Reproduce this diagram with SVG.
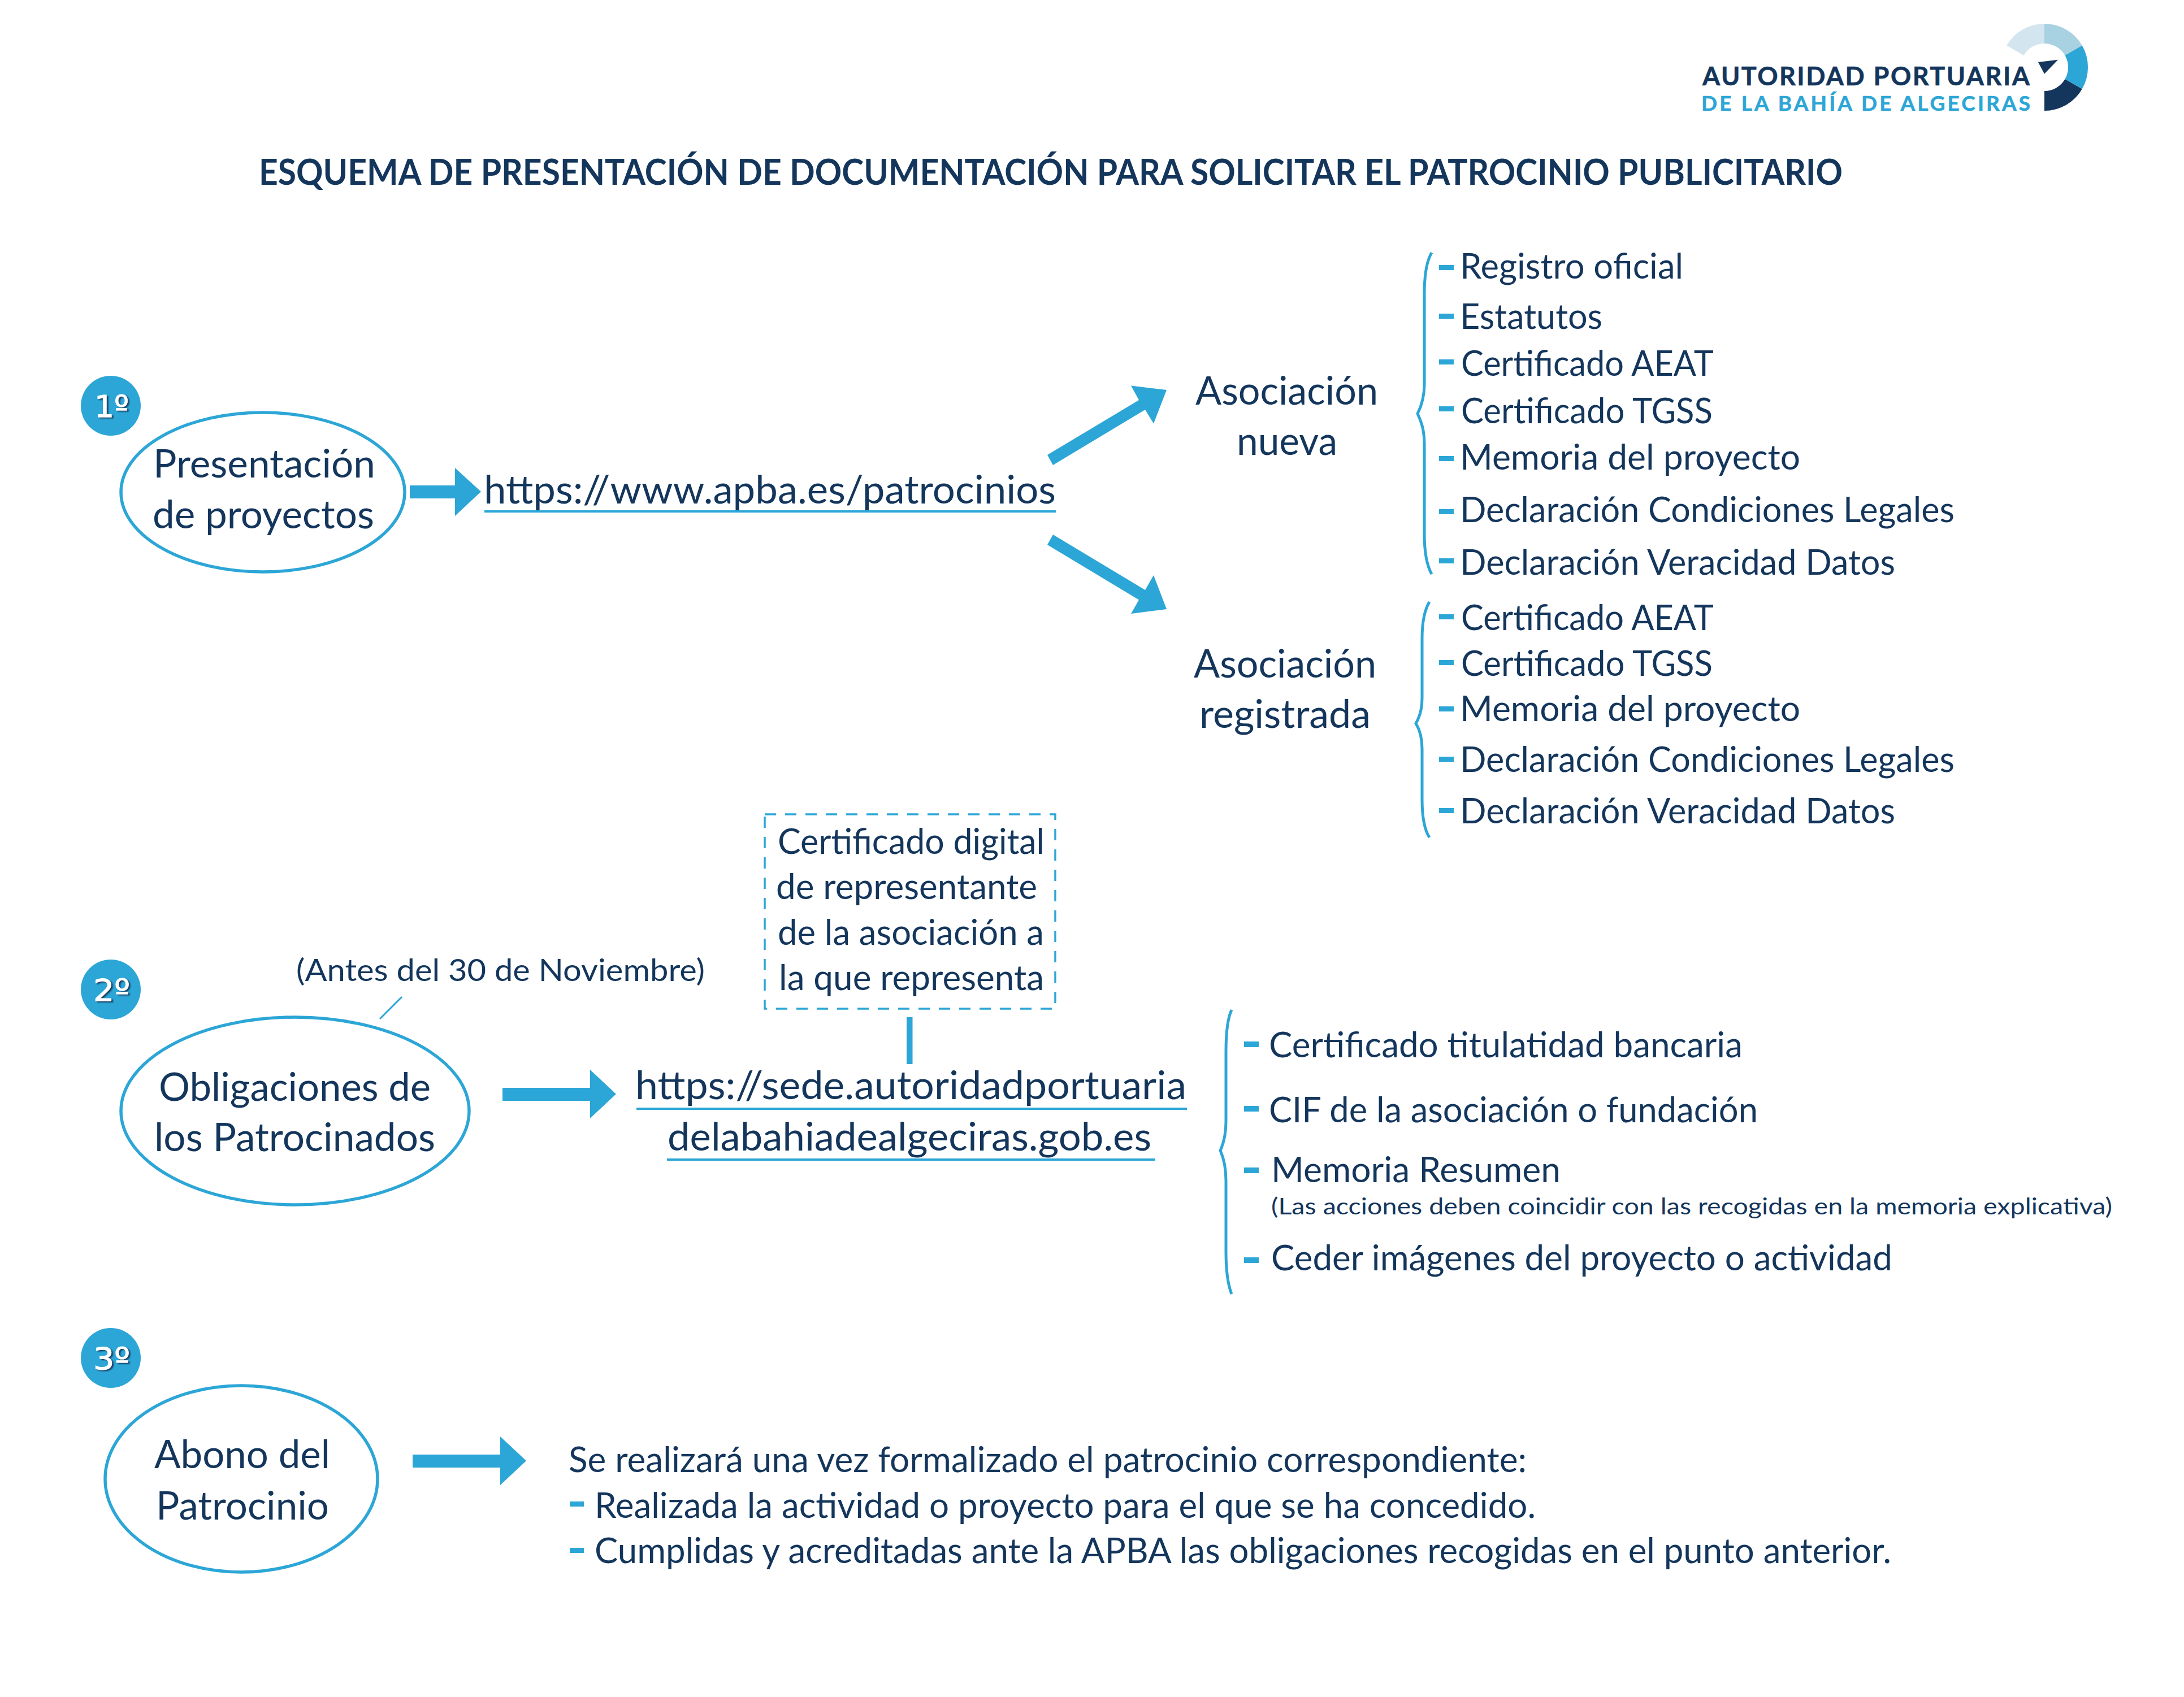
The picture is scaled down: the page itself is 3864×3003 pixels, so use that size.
<svg xmlns="http://www.w3.org/2000/svg" width="3864" height="3003" viewBox="0 0 3864 3003">
<defs>
<style>
text{font-family:"Lato","Carlito","Liberation Sans",sans-serif;fill:#14365c}
.n{font-size:69px}
.i{font-size:62px}
.s{font-size:41px}
.t{font-size:63px;font-weight:700}
.b{font-family:"DejaVu Sans",sans-serif;font-size:54px;font-weight:400;fill:#fff;stroke:#fff;stroke-width:1;filter:url(#sh)}
.l1{font-size:45px;font-weight:700;stroke:#14365c;stroke-width:.6}
.l2{font-size:37px;font-weight:700;fill:#2ca6d6;stroke:#2ca6d6;stroke-width:.6}
.e{fill:#fff;stroke:#2ca6d6;stroke-width:5.500}
.f{fill:#2ca6d6;stroke:none}
.br{fill:none;stroke:#2ca6d6;stroke-width:5}
.u{stroke:#2ca6d6;stroke-width:4;fill:none}
</style>
<filter id="sh" x="-20%" y="-20%" width="150%" height="150%"><feDropShadow dx="3" dy="2" stdDeviation="1" flood-color="#14365c" flood-opacity="0.9"/></filter>
</defs>
<rect width="3864" height="3003" fill="#fff"/>
<g id="logo">
<path d="M3617 42A77 77 0 0 0 3550.300 80.500L3580.600 98A42 42 0 0 1 3617 77Z" fill="#d3e6ef"/>
<path d="M3617 42A77 77 0 0 1 3683.700 80.500L3653.400 98A42 42 0 0 0 3617 77Z" fill="#a8d1e2"/>
<path d="M3683.700 80.500A77 77 0 0 1 3683.700 157.500L3653.400 140A42 42 0 0 0 3653.400 98Z" fill="#2ca6d6"/>
<path d="M3683.700 157.500A77 77 0 0 1 3617 196L3617 161A42 42 0 0 0 3653.400 140Z" fill="#14365c"/>
<path d="M3606 110L3641 105.700L3617 130.700Z" fill="#14365c"/>
<text class="l1" x="3012" y="151" textLength="579" lengthAdjust="spacing">AUTORIDAD PORTUARIA</text>
<text class="l2" x="3010" y="196" textLength="582" lengthAdjust="spacing">DE LA BAHÍA DE ALGECIRAS</text>
</g>
<g id="title"><text class="t" x="458" y="327" textLength="2802" lengthAdjust="spacingAndGlyphs">ESQUEMA DE PRESENTACIÓN DE DOCUMENTACIÓN PARA SOLICITAR EL PATROCINIO PUBLICITARIO</text></g>
<g id="connectors">
<polygon class="f" points="725,859 805,859 805,828 851,870 805,913 805,882 725,882"/>
<polygon class="f" points="1853,805 2015,708 2001,682.500 2064,690 2041,749.500 2026,725 1863,823"/>
<polygon class="f" points="1863,946 2026,1044 2041,1018 2064,1078 2001,1086 2015,1061.500 1853,964"/>
<polygon class="f" points="889,1925 1044,1925 1044,1893 1090,1936 1044,1979 1044,1948 889,1948"/>
<rect class="f" x="1604" y="1800" width="10.500" height="83"/>
<line class="u" style="stroke-width:3" x1="672" y1="1803" x2="711" y2="1764"/>
<polygon class="f" points="730,2574 885,2574 885,2542 931,2585 885,2628 885,2597 730,2597"/>
</g>
<g id="step1">
<g id="badge1"><circle class="f" cx="196" cy="718" r="53"/><text class="b" x="167" y="738" textLength="61" lengthAdjust="spacingAndGlyphs">1º</text></g>
<g id="presentacion"><ellipse class="e" cx="465" cy="871" rx="251" ry="141"/>
<text class="n" x="271" y="845" textLength="393" lengthAdjust="spacingAndGlyphs">Presentación</text>
<text class="n" x="270" y="935" textLength="392" lengthAdjust="spacingAndGlyphs">de proyectos</text></g>
<g id="url1"><text class="n" x="856" y="891" textLength="1012" lengthAdjust="spacingAndGlyphs">https://www.apba.es/patrocinios</text><line class="u" x1="857" y1="905" x2="1868" y2="905"/></g>
<g id="nueva">
<text class="n" x="2115" y="716" textLength="323" lengthAdjust="spacingAndGlyphs">Asociación</text>
<text class="n" x="2188" y="805" textLength="178" lengthAdjust="spacingAndGlyphs">nueva</text></g>
<g id="lista-nueva">
<path class="br" d="M2533 447C2524 462 2520 490 2520 520L2520 680C2520 705 2514 720 2508 732C2514 745 2520 760 2520 785L2520 945C2520 975 2524 1000 2533 1016"/>
<rect class="f" x="2546" y="469" width="26" height="9"/><rect class="f" x="2546" y="555" width="26" height="9"/><rect class="f" x="2546" y="636" width="26" height="9"/><rect class="f" x="2546" y="719" width="26" height="9"/><rect class="f" x="2546" y="807" width="26" height="9"/><rect class="f" x="2546" y="901" width="26" height="9"/><rect class="f" x="2546" y="988" width="26" height="9"/>
<text class="i" x="2583" y="493" textLength="395" lengthAdjust="spacingAndGlyphs">Registro oficial</text>
<text class="i" x="2583" y="582" textLength="252" lengthAdjust="spacingAndGlyphs">Estatutos</text>
<text class="i" x="2585" y="665" textLength="447" lengthAdjust="spacingAndGlyphs">Certificado AEAT</text>
<text class="i" x="2585" y="749" textLength="445" lengthAdjust="spacingAndGlyphs">Certificado TGSS</text>
<text class="i" x="2583" y="831" textLength="602" lengthAdjust="spacingAndGlyphs">Memoria del proyecto</text>
<text class="i" x="2583" y="924" textLength="875" lengthAdjust="spacingAndGlyphs">Declaración Condiciones Legales</text>
<text class="i" x="2583" y="1017" textLength="770" lengthAdjust="spacingAndGlyphs">Declaración Veracidad Datos</text>
</g>
<g id="registrada">
<text class="n" x="2112" y="1199" textLength="323" lengthAdjust="spacingAndGlyphs">Asociación</text>
<text class="n" x="2122" y="1288" textLength="303" lengthAdjust="spacingAndGlyphs">registrada</text></g>
<g id="lista-registrada">
<path class="br" d="M2529 1065C2520 1080 2516 1105 2516 1130L2516 1235C2516 1255 2511 1270 2505 1280C2511 1290 2516 1305 2516 1325L2516 1415C2516 1445 2520 1468 2529 1482"/>
<rect class="f" x="2546" y="1087" width="26" height="9"/><rect class="f" x="2546" y="1168" width="26" height="9"/><rect class="f" x="2546" y="1250" width="26" height="9"/><rect class="f" x="2546" y="1339" width="26" height="9"/><rect class="f" x="2546" y="1430" width="26" height="9"/>
<text class="i" x="2585" y="1115" textLength="447" lengthAdjust="spacingAndGlyphs">Certificado AEAT</text>
<text class="i" x="2585" y="1196" textLength="445" lengthAdjust="spacingAndGlyphs">Certificado TGSS</text>
<text class="i" x="2583" y="1276" textLength="602" lengthAdjust="spacingAndGlyphs">Memoria del proyecto</text>
<text class="i" x="2583" y="1366" textLength="875" lengthAdjust="spacingAndGlyphs">Declaración Condiciones Legales</text>
<text class="i" x="2583" y="1457" textLength="770" lengthAdjust="spacingAndGlyphs">Declaración Veracidad Datos</text>
</g>
</g>
<g id="step2">
<g id="badge2"><circle class="f" cx="196" cy="1751" r="53"/><text class="b" x="165" y="1771" textLength="65" lengthAdjust="spacingAndGlyphs">2º</text></g>
<g id="antes"><text class="s" style="font-size:54px" x="524" y="1736" textLength="723" lengthAdjust="spacingAndGlyphs">(Antes del 30 de Noviembre)</text></g>
<g id="obligaciones"><ellipse class="e" cx="522" cy="1966" rx="308" ry="166"/>
<text class="n" x="281" y="1948" textLength="481" lengthAdjust="spacingAndGlyphs">Obligaciones de</text>
<text class="n" x="273" y="2037" textLength="497" lengthAdjust="spacingAndGlyphs">los Patrocinados</text></g>
<g id="certificado-digital"><rect x="1353" y="1441" width="514" height="344" fill="none" stroke="#2ca6d6" stroke-width="3.500" stroke-dasharray="20 16"/>
<text class="i" x="1376" y="1511" textLength="472" lengthAdjust="spacingAndGlyphs">Certificado digital</text>
<text class="i" x="1373" y="1591" textLength="462" lengthAdjust="spacingAndGlyphs">de representante</text>
<text class="i" x="1376" y="1672" textLength="471" lengthAdjust="spacingAndGlyphs">de la asociación a</text>
<text class="i" x="1378" y="1752" textLength="469" lengthAdjust="spacingAndGlyphs">la que representa</text></g>
<g id="url2">
<text class="n" x="1124" y="1945" textLength="975" lengthAdjust="spacingAndGlyphs">https://sede.autoridadportuaria</text><line class="u" x1="1126" y1="1962" x2="2100" y2="1962"/>
<text class="n" x="1181" y="2036" textLength="856" lengthAdjust="spacingAndGlyphs">delabahiadealgeciras.gob.es</text><line class="u" x1="1180" y1="2052" x2="2044" y2="2052"/></g>
<g id="lista-obligaciones">
<path class="br" d="M2179 1787C2172 1802 2169 1830 2169 1860L2169 1985C2169 2010 2164 2025 2159 2036C2164 2047 2169 2065 2169 2090L2169 2215C2169 2245 2172 2272 2179 2290"/>
<rect class="f" x="2201" y="1843" width="26" height="10"/><rect class="f" x="2201" y="1957" width="26" height="10"/><rect class="f" x="2201" y="2066" width="26" height="10"/><rect class="f" x="2201" y="2225" width="26" height="10"/>
<text class="i" x="2245" y="1871" textLength="838" lengthAdjust="spacingAndGlyphs">Certificado titulatidad bancaria</text>
<text class="i" x="2245" y="1986" textLength="865" lengthAdjust="spacingAndGlyphs">CIF de la asociación o fundación</text>
<text class="i" x="2249" y="2092" textLength="512" lengthAdjust="spacingAndGlyphs">Memoria Resumen</text>
<text class="s" x="2249" y="2149" textLength="1488" lengthAdjust="spacingAndGlyphs">(Las acciones deben coincidir con las recogidas en la memoria explicativa)</text>
<text class="i" x="2249" y="2248" textLength="1099" lengthAdjust="spacingAndGlyphs">Ceder imágenes del proyecto o actividad</text>
</g>
</g>
<g id="step3">
<g id="badge3"><circle class="f" cx="196" cy="2403" r="53"/><text class="b" x="165" y="2423" textLength="65" lengthAdjust="spacingAndGlyphs">3º</text></g>
<g id="abono"><ellipse class="e" cx="427" cy="2617" rx="241" ry="165"/>
<text class="n" x="273" y="2598" textLength="311" lengthAdjust="spacingAndGlyphs">Abono del</text>
<text class="n" x="276" y="2689" textLength="306" lengthAdjust="spacingAndGlyphs">Patrocinio</text></g>
<g id="abono-texto">
<rect class="f" x="1008" y="2657" width="25" height="9"/><rect class="f" x="1008" y="2739" width="25" height="9"/>
<text class="i" x="1006" y="2605" textLength="1695" lengthAdjust="spacingAndGlyphs">Se realizará una vez formalizado el patrocinio correspondiente:</text>
<text class="i" x="1052" y="2686" textLength="1665" lengthAdjust="spacingAndGlyphs">Realizada la actividad o proyecto para el que se ha concedido.</text>
<text class="i" x="1052" y="2766" textLength="2294" lengthAdjust="spacingAndGlyphs">Cumplidas y acreditadas ante la APBA las obligaciones recogidas en el punto anterior.</text>
</g>
</g>
</svg>
